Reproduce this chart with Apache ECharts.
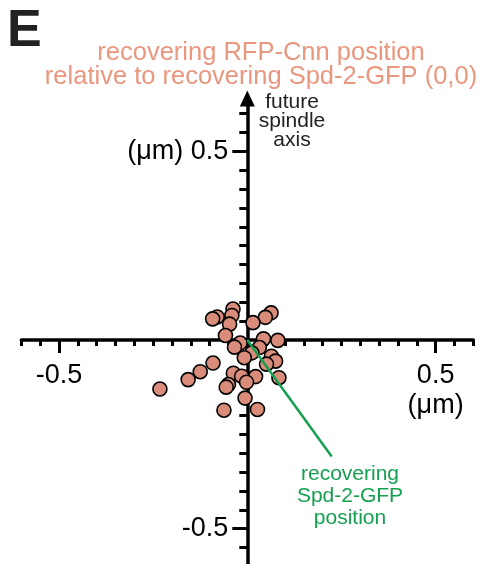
<!DOCTYPE html>
<html>
<head>
<meta charset="utf-8">
<script src="https://cdn.jsdelivr.net/npm/echarts@6/dist/echarts.min.js"></script>
<style>
html,body{margin:0;padding:0;background:#fff;}
#chart{width:486px;height:564px;}
</style>
</head>
<body>
<div id="chart"></div>
<script>
// RFP-Cnn positions relative to Spd-2-GFP (µm)
const cnnX = [-0.038, 0.063, 0.048, -0.080, -0.092, -0.041, -0.047, 0.015, -0.058, -0.019,
              0.043, 0.081, -0.034, 0.032, 0.012, -0.008, 0.064, 0.075, 0.051, -0.091,
              -0.125, -0.157, -0.232, -0.037, -0.015, 0.022, -0.002, 0.084, -0.050, -0.056,
              -0.006, -0.062, 0.027];
const cnnY = [0.082, 0.072, 0.060, 0.061, 0.056, 0.065, 0.042, 0.046, 0.012, -0.008,
              0.003, -0.001, -0.019, -0.020, -0.034, -0.047, -0.043, -0.056, -0.064, -0.061,
              -0.084, -0.105, -0.130, -0.088, -0.096, -0.097, -0.112, -0.100, -0.118, -0.125,
              -0.154, -0.186, -0.184];
// pointer from the Spd-2-GFP origin to its annotation
const pointerX = [0, 0.224];
const pointerY = [0, -0.309];
const majorTicks = [-0.5, 0.5];
const xTickLabels = {'-0.5': '-0.5', '0.5': '0.5\n(μm)'};
const yTickLabels = {'-0.5': '-0.5', '0.5': '(μm) 0.5'};
const titleLines = ['recovering RFP-Cnn position', 'relative to recovering Spd-2-GFP (0,0)'];
const axisNote = ['future', 'spindle', 'axis'];
const originNote = ['recovering', 'Spd-2-GFP', 'position'];

const X_MIN = -0.6, X_MAX = 0.6, Y_MIN = -0.6, Y_MAX = 0.64;
const yMinor = [];
for (let k = -12; k <= 12; k++) yMinor.push(+(k * 0.05).toFixed(2));

const FONT = 'Liberation Sans, Arial, Helvetica, sans-serif';
const chart = echarts.init(document.getElementById('chart'), null, {renderer: 'canvas'});

const scatterData = cnnX.map((x, i) => [x, cnnY[i]]);
const pointerData = pointerX.map((x, i) => [x, pointerY[i]]);
const hiddenLine = {color: 'rgba(0,0,0,0)', width: 0.01};

const option = {
  backgroundColor: '#ffffff',
  animation: false,
  title: {
    text: titleLines.join('\n'),
    left: 256, top: 36, textAlign: 'center',
    textStyle: {color: '#ea977f', fontSize: 25.5, fontWeight: 'normal', fontFamily: FONT, lineHeight: 24}
  },
  grid: {left: 21.3, right: 12.7, top: 98.5, bottom: -2.4, containLabel: false, outerBoundsMode: 'none'},
  xAxis: [
    {
      type: 'value', min: X_MIN, max: X_MAX, interval: 0.05,
      axisLine: {onZero: true, onZeroAxisIndex: 0, lineStyle: {color: '#000', width: 3.5}},
      axisTick: {show: true, length: 6, lineStyle: {color: '#000', width: 3}},
      axisLabel: {show: false},
      splitLine: {show: false}
    },
    {
      type: 'value', position: 'bottom', min: X_MIN, max: X_MAX, offset: 0,
      axisLine: {show: true, onZero: false, lineStyle: hiddenLine},
      axisTick: {show: true, customValues: majorTicks, length: 13, lineStyle: {color: '#000', width: 3}},
      axisLabel: {
        show: true, customValues: majorTicks, margin: 21,
        fontSize: 27, lineHeight: 30, color: '#000', fontFamily: FONT,
        formatter: v => xTickLabels[String(v)] || ''
      },
      splitLine: {show: false}
    }
  ],
  yAxis: [
    {
      type: 'value', min: Y_MIN, max: Y_MAX,
      axisLine: {onZero: true, onZeroAxisIndex: 0, symbol: ['none', 'triangle'], symbolSize: [15, 16],
                 lineStyle: {color: '#000', width: 3.5}},
      axisTick: {show: true, customValues: yMinor, length: 8, lineStyle: {color: '#000', width: 3}},
      axisLabel: {show: false},
      splitLine: {show: false}
    },
    {
      type: 'value', position: 'left', min: Y_MIN, max: Y_MAX, offset: 0,
      axisLine: {show: true, onZero: false, lineStyle: hiddenLine},
      axisTick: {show: true, customValues: majorTicks, length: 15, lineStyle: {color: '#000', width: 3}},
      axisLabel: {
        show: true, customValues: majorTicks, margin: 19,
        fontSize: 27, color: '#000', fontFamily: FONT,
        formatter: v => yTickLabels[String(v)] || ''
      },
      splitLine: {show: false}
    }
  ],
  series: [
    {
      type: 'scatter', xAxisIndex: 0, yAxisIndex: 0, data: scatterData,
      symbol: 'circle', symbolSize: 14, z: 3,
      itemStyle: {color: '#d98c7a', borderColor: '#000', borderWidth: 1.6, opacity: 1}
    },
    {
      type: 'line', xAxisIndex: 0, yAxisIndex: 0, data: pointerData,
      symbol: 'none', z: 5, silent: true,
      lineStyle: {color: '#15a04f', width: 2.5}
    }
  ],
  graphic: [
    {type: 'text', left: 7, top: 6, z: 10,
     style: {text: 'E', fontSize: 52, fontWeight: 'bold', fontFamily: FONT, fill: '#222'}},
    {type: 'text', x: 292, y: 93, z: 10,
     style: {text: axisNote.join('\n'), fontSize: 21, lineHeight: 19, fontFamily: FONT, fill: '#222', align: 'center', verticalAlign: 'top'}},
    {type: 'text', x: 350, y: 463, z: 10,
     style: {text: originNote.join('\n'), fontSize: 21, lineHeight: 22, fontFamily: FONT, fill: '#15a04f', align: 'center', verticalAlign: 'top'}}
  ]
};
chart.setOption(option);

// Move the major-tick axes onto the origin, using the library's own scale.
const zeroPx = chart.convertToPixel({xAxisIndex: 0, yAxisIndex: 0}, [0, 0]);
const cornerPx = chart.convertToPixel({xAxisIndex: 0, yAxisIndex: 0}, [X_MIN, Y_MIN]);
chart.setOption({
  xAxis: [{}, {offset: -(cornerPx[1] - zeroPx[1])}],
  yAxis: [{}, {offset: -(zeroPx[0] - cornerPx[0])}]
});
</script>
</body>
</html>
